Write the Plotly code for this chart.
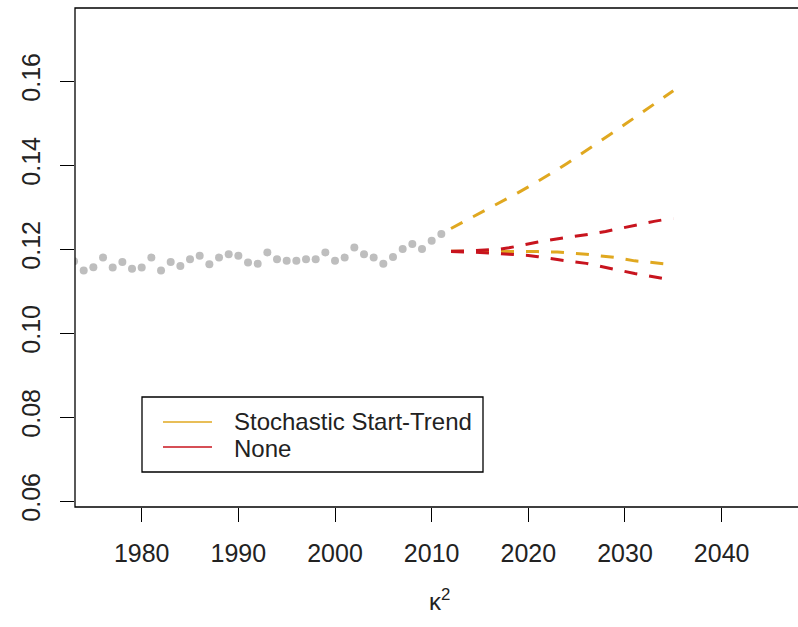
import plotly.graph_objects as go

# ---------------- data ----------------
hist_years = list(range(1973, 2012))
hist_values = [0.1171, 0.1149, 0.1157, 0.1180, 0.1156, 0.1169, 0.1153, 0.1156, 0.1180, 0.1149,
               0.1169, 0.1160, 0.1176, 0.1184, 0.1164, 0.1180, 0.1188, 0.1184, 0.1168, 0.1165,
               0.1192, 0.1176, 0.1172, 0.1172, 0.1176, 0.1176, 0.1192, 0.1172, 0.1180, 0.1204,
               0.1188, 0.1180, 0.1165, 0.1181, 0.1200, 0.1212, 0.1200, 0.1220, 0.1236]

proj_years = list(range(2012, 2036))
sst_upper = [0.1249, 0.1261, 0.1273, 0.1285, 0.1297, 0.1309, 0.1322, 0.1335, 0.1348, 0.1361,
             0.1375, 0.1389, 0.1404, 0.1419, 0.1434, 0.1449, 0.1465, 0.1481, 0.1497, 0.1513,
             0.1529, 0.1545, 0.1561, 0.1577]
sst_lower = [0.1195, 0.1195, 0.1195, 0.1195, 0.1195, 0.1195, 0.1195, 0.1194, 0.1194, 0.1194,
             0.1193, 0.1193, 0.1191, 0.1190, 0.1188, 0.1185, 0.1183, 0.1180, 0.1176, 0.1172,
             0.1170, 0.1167, 0.1165, 0.1163]
none_upper = [0.1195, 0.1195, 0.1196, 0.1197, 0.1198, 0.1200, 0.1203, 0.1208, 0.1213, 0.1217,
              0.1221, 0.1225, 0.1228, 0.1231, 0.1234, 0.1238, 0.1242, 0.1247, 0.1252, 0.1257,
              0.1261, 0.1266, 0.1270, 0.1272]
none_lower = [0.1194, 0.1194, 0.1193, 0.1192, 0.1191, 0.1190, 0.1188, 0.1186, 0.1185, 0.1182,
              0.1178, 0.1175, 0.1172, 0.1169, 0.1166, 0.1161, 0.1156, 0.1151, 0.1146, 0.1142,
              0.1138, 0.1134, 0.1130, 0.1126]

x_ticks = [1980, 1990, 2000, 2010, 2020, 2030, 2040]
y_ticks = [0.06, 0.08, 0.10, 0.12, 0.14, 0.16]
y_tick_labels = ["0.06", "0.08", "0.10", "0.12", "0.14", "0.16"]
legend_labels = ["Stochastic Start-Trend", "None"]
x_title = "κ<sup>2</sup>"

# ---------------- styles ----------------
ORANGE = "#E0A820"
RED = "#C8141E"
GREY = "#BEBEBE"
FONT = "Liberation Sans, Arial, sans-serif"
TXT = "#222222"
DASH = "13px,12px"

fig = go.Figure()
fig.add_trace(go.Scatter(x=hist_years, y=hist_values, mode="markers",
                         marker=dict(color=GREY, size=8), showlegend=False))
fig.add_trace(go.Scatter(x=proj_years, y=sst_upper, mode="lines",
                         line=dict(color=ORANGE, width=3, dash=DASH), showlegend=False))
fig.add_trace(go.Scatter(x=proj_years, y=sst_lower, mode="lines",
                         line=dict(color=ORANGE, width=3, dash=DASH), showlegend=False))
fig.add_trace(go.Scatter(x=proj_years, y=none_upper, mode="lines",
                         line=dict(color=RED, width=3, dash=DASH), showlegend=False))
fig.add_trace(go.Scatter(x=proj_years, y=none_lower, mode="lines",
                         line=dict(color=RED, width=3, dash=DASH), showlegend=False))

W, H = 798, 627
L, R, T, B = 75, 0, 8, 120
pw, ph = W - L - R, H - T - B

def px_x(x):
    return (x - L) / pw

def px_y(y):
    return (H - B - y) / ph

shapes = [
    dict(type="rect", xref="paper", yref="paper", x0=0, x1=1.02, y0=0, y1=1,
         line=dict(color="black", width=1.3), fillcolor="rgba(0,0,0,0)", layer="above"),
    # legend box
    dict(type="rect", xref="paper", yref="paper",
         x0=px_x(142), x1=px_x(483), y0=px_y(472), y1=px_y(397),
         line=dict(color="black", width=1.3), fillcolor="white", layer="above"),
    dict(type="line", xref="paper", yref="paper", x0=px_x(163), x1=px_x(212),
         y0=px_y(422), y1=px_y(422), line=dict(color=ORANGE, width=1.3), layer="above"),
    dict(type="line", xref="paper", yref="paper", x0=px_x(163), x1=px_x(212),
         y0=px_y(447), y1=px_y(447), line=dict(color=RED, width=1.3), layer="above"),
]

annotations = [
    dict(text=legend_labels[0], xref="paper", yref="paper", x=px_x(232), y=px_y(422),
         xanchor="left", yanchor="middle", showarrow=False,
         font=dict(family=FONT, size=24, color=TXT)),
    dict(text=legend_labels[1], xref="paper", yref="paper", x=px_x(232), y=px_y(448),
         xanchor="left", yanchor="middle", showarrow=False,
         font=dict(family=FONT, size=24, color=TXT)),
    dict(text=x_title, xref="paper", yref="paper", x=px_x(439), y=px_y(600),
         xanchor="center", yanchor="middle", showarrow=False,
         font=dict(family=FONT, size=24, color=TXT)),
]

fig.update_layout(
    width=W, height=H,
    margin=dict(l=L, r=R, t=T, b=B, pad=0),
    paper_bgcolor="white", plot_bgcolor="white",
    font=dict(family=FONT, size=25, color=TXT),
    showlegend=False,
    shapes=shapes,
    annotations=annotations,
    xaxis=dict(range=[1973.1, 2047.9], tickvals=x_ticks, ticktext=[str(v) for v in x_ticks],
               ticks="outside", ticklen=14, tickwidth=1.3, tickcolor="black",
               showgrid=False, zeroline=False, showline=False,
               ticklabelstandoff=10),
    yaxis=dict(range=[0.0586, 0.1774], tickvals=y_ticks, ticktext=y_tick_labels,
               ticks="outside", ticklen=14, tickwidth=1.3, tickcolor="black",
               showgrid=False, zeroline=False, showline=False, tickangle=-90,
               ticklabelstandoff=10),
)

fig.write_html("out.html")
